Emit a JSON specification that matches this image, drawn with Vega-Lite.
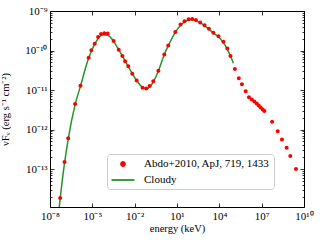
{
  "$schema": "https://vega.github.io/schema/vega-lite/v6.json",
  "width": 254,
  "height": 196,
  "autosize": {"type": "none"},
  "padding": {"left": 50, "top": 11, "right": 16, "bottom": 33},
  "background": "white",
  "config": {
    "view": {"stroke": "black", "strokeWidth": 1},
    "font": "Liberation Serif",
    "axis": {
      "domain": false,
      "grid": false,
      "tickColor": "black",
      "tickWidth": 0.8,
      "labelColor": "black",
      "titleColor": "black",
      "labelFont": "Liberation Serif",
      "titleFont": "Liberation Serif",
      "labelFontSize": 11,
      "titleFontSize": 10.5,
      "titleFontWeight": "normal"
    },
    "legend": {
      "orient": "none",
      "legendX": 57,
      "legendY": 143,
      "fillColor": "white",
      "strokeColor": "#cccccc",
      "cornerRadius": 3,
      "padding": 4,
      "labelFont": "Liberation Serif",
      "labelFontSize": 11,
      "labelColor": "black",
      "symbolSize": 100,
      "symbolStrokeWidth": 1.8,
      "symbolOffset": 6,
      "labelOffset": 15,
      "rowPadding": 4
    }
  },
  "datasets": {
    "model": [
      {"E": 3.98e-8, "F": 7.08e-15},
      {"E": 5.25e-8, "F": 1.78e-14},
      {"E": 1.07e-7, "F": 1.41e-13},
      {"E": 1.95e-7, "F": 5.75e-13},
      {"E": 6.03e-7, "F": 4.27e-12},
      {"E": 1.445e-6, "F": 1.26e-11},
      {"E": 5.5e-6, "F": 6.46e-11},
      {"E": 1.479e-5, "F": 1.45e-10},
      {"E": 3.16e-5, "F": 2.19e-10},
      {"E": 6.31e-5, "F": 2.51e-10},
      {"E": 1.26e-4, "F": 2.45e-10},
      {"E": 3.24e-4, "F": 1.70e-10},
      {"E": 7.41e-4, "F": 1.05e-10},
      {"E": 2.09e-3, "F": 5.5e-11},
      {"E": 6.76e-3, "F": 2.63e-11},
      {"E": 1.38e-2, "F": 1.74e-11},
      {"E": 3.63e-2, "F": 1.17e-11},
      {"E": 7.08e-2, "F": 1.07e-11},
      {"E": 0.126, "F": 1.23e-11},
      {"E": 0.219, "F": 1.66e-11},
      {"E": 0.49, "F": 3.09e-11},
      {"E": 1.259, "F": 7.94e-11},
      {"E": 2.40, "F": 1.32e-10},
      {"E": 7.59, "F": 2.88e-10},
      {"E": 17.8, "F": 4.37e-10},
      {"E": 33.9, "F": 5.25e-10},
      {"E": 66.1, "F": 5.89e-10},
      {"E": 120, "F": 6.03e-10},
      {"E": 219, "F": 5.75e-10},
      {"E": 437, "F": 5.01e-10},
      {"E": 891, "F": 4.27e-10},
      {"E": 1820, "F": 3.47e-10},
      {"E": 3800, "F": 2.75e-10},
      {"E": 8710, "F": 2.24e-10},
      {"E": 19500, "F": 1.58e-10},
      {"E": 37200, "F": 1.07e-10},
      {"E": 61700, "F": 7.24e-11},
      {"E": 100000, "F": 4.79e-11}
    ],
    "obs": [
      {"E": 5.25e-8, "F": 1.86e-14},
      {"E": 1.07e-7, "F": 1.51e-13},
      {"E": 1.95e-7, "F": 6.03e-13},
      {"E": 6.03e-7, "F": 4.47e-12},
      {"E": 1.445e-6, "F": 1.29e-11},
      {"E": 5.50e-6, "F": 6.61e-11},
      {"E": 8.51e-6, "F": 1.02e-10},
      {"E": 1.479e-5, "F": 1.48e-10},
      {"E": 2.57e-5, "F": 2.19e-10},
      {"E": 4.17e-5, "F": 2.63e-10},
      {"E": 7.08e-5, "F": 2.75e-10},
      {"E": 1.23e-4, "F": 2.69e-10},
      {"E": 3.24e-4, "F": 1.74e-10},
      {"E": 7.41e-4, "F": 1.05e-10},
      {"E": 1.349e-3, "F": 7.24e-11},
      {"E": 2.09e-3, "F": 5.37e-11},
      {"E": 3.55e-3, "F": 3.98e-11},
      {"E": 6.76e-3, "F": 2.57e-11},
      {"E": 1.38e-2, "F": 1.74e-11},
      {"E": 3.63e-2, "F": 1.15e-11},
      {"E": 6.61e-2, "F": 1.10e-11},
      {"E": 0.1148, "F": 1.26e-11},
      {"E": 0.209, "F": 1.66e-11},
      {"E": 0.479, "F": 3.09e-11},
      {"E": 1.259, "F": 7.94e-11},
      {"E": 2.40, "F": 1.35e-10},
      {"E": 7.59, "F": 2.95e-10},
      {"E": 17.78, "F": 4.57e-10},
      {"E": 33.9, "F": 5.50e-10},
      {"E": 66.1, "F": 6.17e-10},
      {"E": 120, "F": 6.31e-10},
      {"E": 219, "F": 5.89e-10},
      {"E": 437, "F": 5.13e-10},
      {"E": 891, "F": 4.37e-10},
      {"E": 1820, "F": 3.55e-10},
      {"E": 3800, "F": 2.82e-10},
      {"E": 8710, "F": 2.29e-10},
      {"E": 19500, "F": 1.66e-10},
      {"E": 37200, "F": 1.12e-10},
      {"E": 61700, "F": 7.24e-11},
      {"E": 125900, "F": 3.39e-11},
      {"E": 240000, "F": 2.0e-11},
      {"E": 398000, "F": 1.41e-11},
      {"E": 741000, "F": 9.33e-12},
      {"E": 1259000, "F": 6.61e-12},
      {"E": 2000000, "F": 5.75e-12},
      {"E": 3020000, "F": 5.13e-12},
      {"E": 4470000, "F": 4.57e-12},
      {"E": 6170000, "F": 4.07e-12},
      {"E": 8510000, "F": 3.63e-12},
      {"E": 1.20e7, "F": 3.24e-12},
      {"E": 1.55e7, "F": 2.95e-12},
      {"E": 5.50e7, "F": 1.58e-12},
      {"E": 1.38e8, "F": 9.12e-13},
      {"E": 2.75e8, "F": 5.62e-13},
      {"E": 5.89e8, "F": 3.47e-13},
      {"E": 1.07e9, "F": 2.14e-13},
      {"E": 2.69e9, "F": 1.0e-13}
    ]
  },
  "layer": [
    {
      "data": {"name": "model"},
      "transform": [{"calculate": "'Cloudy'", "as": "series"}],
      "mark": {"type": "line", "clip": true, "strokeWidth": 1.5, "interpolate": "monotone"},
      "encoding": {
        "x": {
          "field": "E", "type": "quantitative",
          "scale": {"type": "log", "domain": [1e-8, 1e10], "nice": false},
          "axis": {
            "orient": "bottom",
            "title": "energy (keV)",
            "values": [1e-8, 1e-5, 1e-2, 10, 1e4, 1e7, 1e10],
            "tickSize": -4,
            "labelPadding": 7,
            "titlePadding": 2,
            "labelFlush": false,
            "labelOverlap": false,
            "labelExpr": "{'-8':'10⁻⁸','-5':'10⁻⁵','-2':'10⁻²','1':'10¹','4':'10⁴','7':'10⁷','10':'10¹⁰'}[''+round(log(datum.value)/LN10)]"
          }
        },
        "y": {
          "field": "F", "type": "quantitative",
          "scale": {"type": "log", "domain": [1.1e-14, 1e-9], "nice": false},
          "axis": {
            "orient": "left",
            "title": "νFᵥ (erg s⁻¹ cm⁻²)",
            "values": [2e-14,3e-14,4e-14,5e-14,6e-14,7e-14,8e-14,9e-14,1e-13,2e-13,3e-13,4e-13,5e-13,6e-13,7e-13,8e-13,9e-13,1e-12,2e-12,3e-12,4e-12,5e-12,6e-12,7e-12,8e-12,9e-12,1e-11,2e-11,3e-11,4e-11,5e-11,6e-11,7e-11,8e-11,9e-11,1e-10,2e-10,3e-10,4e-10,5e-10,6e-10,7e-10,8e-10,9e-10,1e-9],
            "tickSize": {"condition": {"test": "abs(log(datum.value)/LN10 - round(log(datum.value)/LN10)) < 0.01", "value": -4}, "value": -2},
            "labelPadding": 7,
            "titlePadding": 14,
            "labelFlush": false,
            "labelOverlap": false,
            "labelExpr": "abs(log(datum.value)/LN10 - round(log(datum.value)/LN10)) < 0.01 ? {'-9':'10⁻⁹','-10':'10⁻¹⁰','-11':'10⁻¹¹','-12':'10⁻¹²','-13':'10⁻¹³'}[''+round(log(datum.value)/LN10)] : ''"
          }
        },
        "stroke": {
          "field": "series", "type": "nominal",
          "scale": {"domain": ["Abdo+2010, ApJ, 719, 1433", "Cloudy"], "range": ["#ff0000", "#22962a"]},
          "legend": {"title": null}
        }
      }
    },
    {
      "data": {"name": "obs"},
      "transform": [{"calculate": "'Abdo+2010, ApJ, 719, 1433'", "as": "series"}],
      "mark": {"type": "point", "filled": true, "opacity": 1, "size": 100},
      "encoding": {
        "x": {
          "field": "E", "type": "quantitative",
          "axis": {
            "orient": "top",
            "title": null,
            "labels": false,
            "values": [1e-8, 1e-5, 1e-2, 10, 1e4, 1e7, 1e10],
            "tickSize": -4
          }
        },
        "y": {
          "field": "F", "type": "quantitative",
          "axis": {
            "orient": "right",
            "title": null,
            "labels": false,
            "values": [2e-14,3e-14,4e-14,5e-14,6e-14,7e-14,8e-14,9e-14,1e-13,2e-13,3e-13,4e-13,5e-13,6e-13,7e-13,8e-13,9e-13,1e-12,2e-12,3e-12,4e-12,5e-12,6e-12,7e-12,8e-12,9e-12,1e-11,2e-11,3e-11,4e-11,5e-11,6e-11,7e-11,8e-11,9e-11,1e-10,2e-10,3e-10,4e-10,5e-10,6e-10,7e-10,8e-10,9e-10,1e-9],
            "tickSize": {"condition": {"test": "abs(log(datum.value)/LN10 - round(log(datum.value)/LN10)) < 0.01", "value": -4}, "value": -2}
          }
        },
        "fill": {
          "field": "series", "type": "nominal",
          "scale": {"domain": ["Abdo+2010, ApJ, 719, 1433", "Cloudy"], "range": ["#ff0000", "#22962a"]},
          "legend": {"title": null}
        },
        "shape": {
          "field": "series", "type": "nominal",
          "scale": {"domain": ["Abdo+2010, ApJ, 719, 1433", "Cloudy"], "range": ["M-0.4,0A0.4,0.4,0,1,1,0.4,0A0.4,0.4,0,1,1,-0.4,0Z", "M-2.3,0L2.3,0"]},
          "legend": {"title": null}
        }
      }
    }
  ],
  "resolve": {"axis": {"x": "independent", "y": "independent"}}
}
